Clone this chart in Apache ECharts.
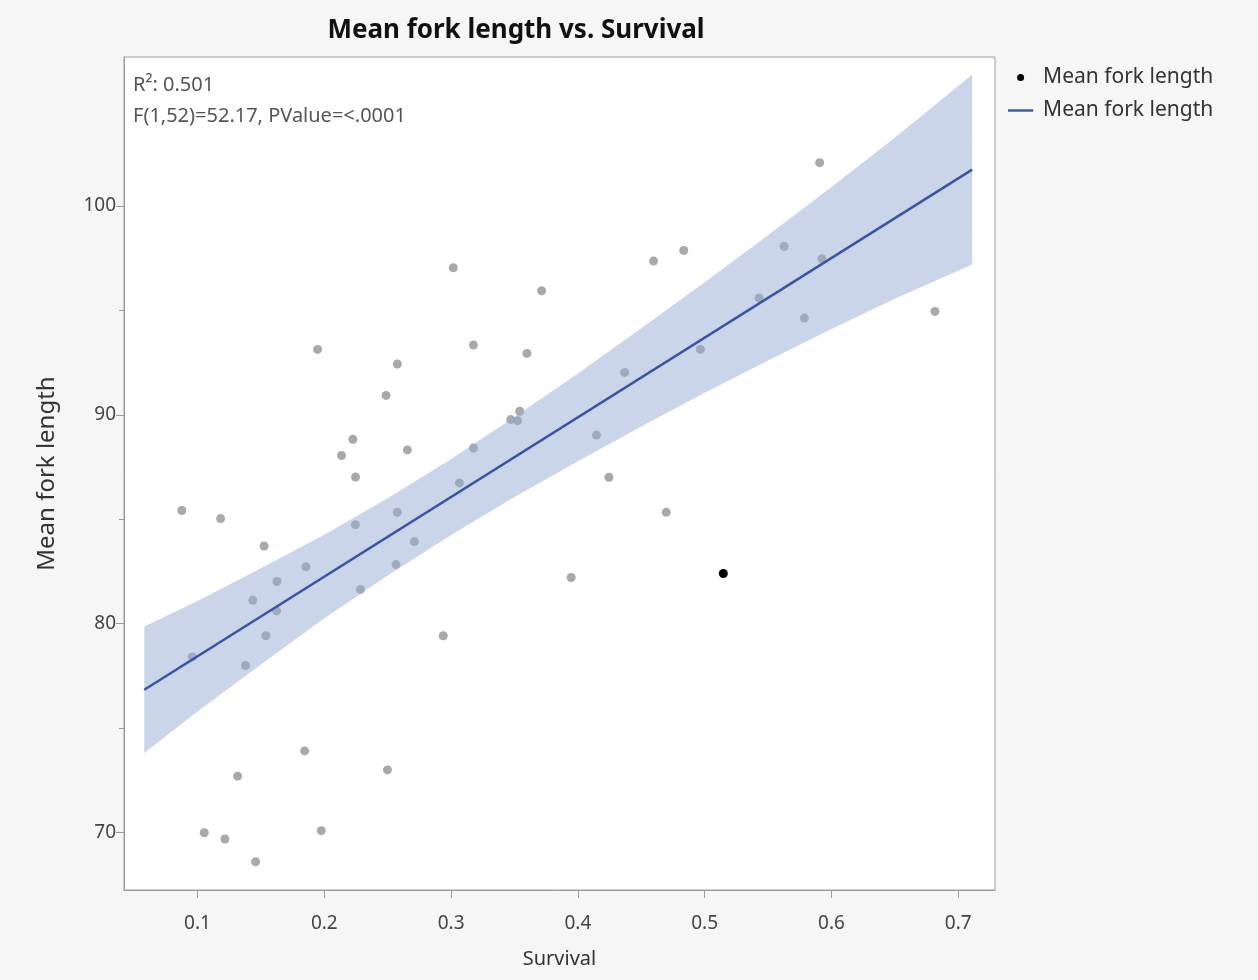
<!DOCTYPE html>
<html>
<head>
<meta charset="utf-8">
<title>Mean fork length vs. Survival</title>
<script src="https://cdn.jsdelivr.net/npm/echarts@6/dist/echarts.min.js"></script>
<style>
  html, body { margin: 0; padding: 0; background: #f6f6f6; }
  #chart { width: 1258px; height: 980px; }
</style>
</head>
<body>
<div id="chart"></div>
<script>
// Observations: survival proportion and mean fork length per group
const survival = [
  0.3017, 0.3714, 0.1947, 0.2576, 0.3176, 0.3598, 0.2487, 0.2225, 0.2136, 0.2246,
  0.2655, 0.3176, 0.3470, 0.3525, 0.3541, 0.3066, 0.0876, 0.1182, 0.2576, 0.2246,
  0.1525, 0.2710, 0.1855, 0.2566, 0.1627, 0.1436, 0.1623, 0.2285, 0.1539, 0.2938,
  0.0959, 0.1379, 0.3947, 0.1845, 0.1316, 0.2498, 0.1053, 0.1216, 0.1976, 0.1458,
  0.5907, 0.4835, 0.4597, 0.5627, 0.5925, 0.5430, 0.5786, 0.6816, 0.4966, 0.4369,
  0.4146, 0.4245, 0.4697, 0.5147
];
const forkLength = [
  97.04, 95.94, 93.13, 92.43, 93.34, 92.94, 90.93, 88.83, 88.05, 87.02,
  88.32, 88.41, 89.77, 89.72, 90.17, 86.74, 85.42, 85.03, 85.33, 84.74,
  83.72, 83.93, 82.72, 82.83, 82.02, 81.12, 80.61, 81.64, 79.42, 79.42,
  78.41, 78.00, 82.21, 73.91, 72.70, 73.00, 69.99, 69.69, 70.09, 68.60,
  102.07, 97.87, 97.36, 98.06, 97.47, 95.59, 94.63, 94.95, 93.13, 92.03,
  89.03, 87.01, 85.33, 82.40
];
// Row currently selected (drawn in black)
const selectedRow = 53;

// Fitted line end points
const fitX = [0.058, 0.711];
const fitY = [76.84, 101.74];

// Confidence band for the fit
const bandX     = [0.058, 0.10, 0.15, 0.20, 0.25, 0.30, 0.35, 0.40, 0.45, 0.50, 0.55, 0.60, 0.65, 0.711];
const bandUpper = [79.87, 81.09, 82.65, 84.26, 86.01, 87.89, 89.90, 91.98, 94.14, 96.35, 98.60, 100.91, 103.26, 106.29];
const bandLower = [73.81, 75.79, 78.05, 80.26, 82.31, 84.25, 86.06, 87.78, 89.44, 91.05, 92.60, 94.11, 95.56, 97.19];

// Axis ticks
const xTicks = [0.1, 0.2, 0.3, 0.4, 0.5, 0.6, 0.7];
const yTicks = [70, 80, 90, 100];
const yMinorTicks = [75, 85, 95];

const statsLines = ['R\u00B2: 0.501', 'F(1,52)=52.17, PValue=<.0001'];

const FONT = '"Noto Sans", "Open Sans", "DejaVu Sans", sans-serif';
const AXIS_GRAY = '#9c9c9c';
const FIT_BLUE = '#3a55a0';

const points = survival.map((s, i) => {
  const item = { value: [s, forkLength[i]] };
  if (i === selectedRow) item.itemStyle = { color: '#000000', opacity: 1 };
  return item;
});

const bandPoly = bandX.map((x, i) => [x, bandUpper[i]])
  .concat(bandX.map((x, i) => [x, bandLower[i]]).reverse());

const chart = echarts.init(document.getElementById('chart'), null, { renderer: 'canvas' });

chart.setOption({
  backgroundColor: '#f6f6f6',
  animation: false,
  textStyle: { fontFamily: FONT },
  title: {
    text: 'Mean fork length vs. Survival',
    left: 511,
    textAlign: 'center',
    top: 13,
    textStyle: { fontFamily: FONT, fontSize: 26, fontWeight: 'bold', color: '#111' }
  },
  legend: {
    orient: 'vertical',
    left: 1003,
    top: 62,
    itemWidth: 35,
    itemHeight: 7,
    itemGap: 12,
    textStyle: { fontFamily: FONT, fontSize: 21, color: '#333' },
    data: [
      { name: 'Mean fork length', icon: 'circle', itemStyle: { color: '#000', opacity: 1 } },
      {
        name: 'Mean fork length ',
        icon: 'path://M0,0 M0,10 M0,3.3 L36,3.3 L36,6.7 L0,6.7 Z',
        itemStyle: { color: FIT_BLUE }
      }
    ]
  },
  grid: {
    left: 124, right: 263, top: 57, bottom: 90,
    show: true,
    backgroundColor: '#ffffff',
    borderColor: AXIS_GRAY,
    borderWidth: 1
  },
  xAxis: {
    type: 'value',
    min: 0.042,
    max: 0.729,
    name: 'Survival',
    nameLocation: 'middle',
    nameGap: 59,
    nameTextStyle: { fontFamily: FONT, fontSize: 20, color: '#333' },
    splitLine: { show: false },
    axisLine: { show: true, lineStyle: { color: AXIS_GRAY } },
    axisTick: { show: true, length: 8, customValues: xTicks, lineStyle: { color: AXIS_GRAY } },
    axisLabel: {
      customValues: xTicks,
      margin: 24,
      fontFamily: FONT, fontSize: 19, color: '#444',
      formatter: v => String(v)
    }
  },
  yAxis: [
    {
      type: 'value',
      min: 67.25,
      max: 107.13,
      name: 'Mean fork length',
      nameLocation: 'middle',
      nameGap: 65,
      nameTextStyle: { fontFamily: FONT, fontSize: 24, color: '#333' },
      splitLine: { show: false },
      axisLine: { show: true, lineStyle: { color: AXIS_GRAY } },
      axisTick: { show: true, length: 8, customValues: yTicks, lineStyle: { color: AXIS_GRAY } },
      axisLabel: {
        customValues: yTicks,
        margin: 8,
        fontFamily: FONT, fontSize: 19, color: '#444'
      }
    },
    {
      type: 'value',
      min: 67.25,
      max: 107.13,
      position: 'left',
      splitLine: { show: false },
      axisLine: { show: false },
      axisTick: { show: true, length: 5, customValues: yMinorTicks, lineStyle: { color: AXIS_GRAY } },
      axisLabel: { show: false }
    }
  ],
  series: [
    {
      name: 'Mean fork length',
      type: 'scatter',
      z: 2,
      symbol: 'circle',
      symbolSize: 9,
      itemStyle: { color: '#939393' },
      data: points
    },
    {
      name: 'Fit band',
      type: 'custom',
      z: 3,
      silent: true,
      data: [0],
      renderItem: (params, api) => {
        const pts = bandPoly.map(p => api.coord(p));
        return {
          type: 'polygon',
          shape: { points: pts },
          style: { fill: 'rgba(150,172,214,0.5)', stroke: 'none' }
        };
      }
    },
    {
      name: 'Mean fork length ',
      type: 'line',
      z: 4,
      symbol: 'none',
      lineStyle: { color: FIT_BLUE, width: 2.5 },
      itemStyle: { color: FIT_BLUE },
      data: fitX.map((x, i) => [x, fitY[i]])
    }
  ],
  graphic: statsLines.map((t, i) => ({
    type: 'text',
    left: 133,
    top: 75 + i * 31,
    z: 10,
    style: { text: t, fontFamily: FONT, fontSize: 20, fill: '#555' }
  }))
});
</script>
</body>
</html>
